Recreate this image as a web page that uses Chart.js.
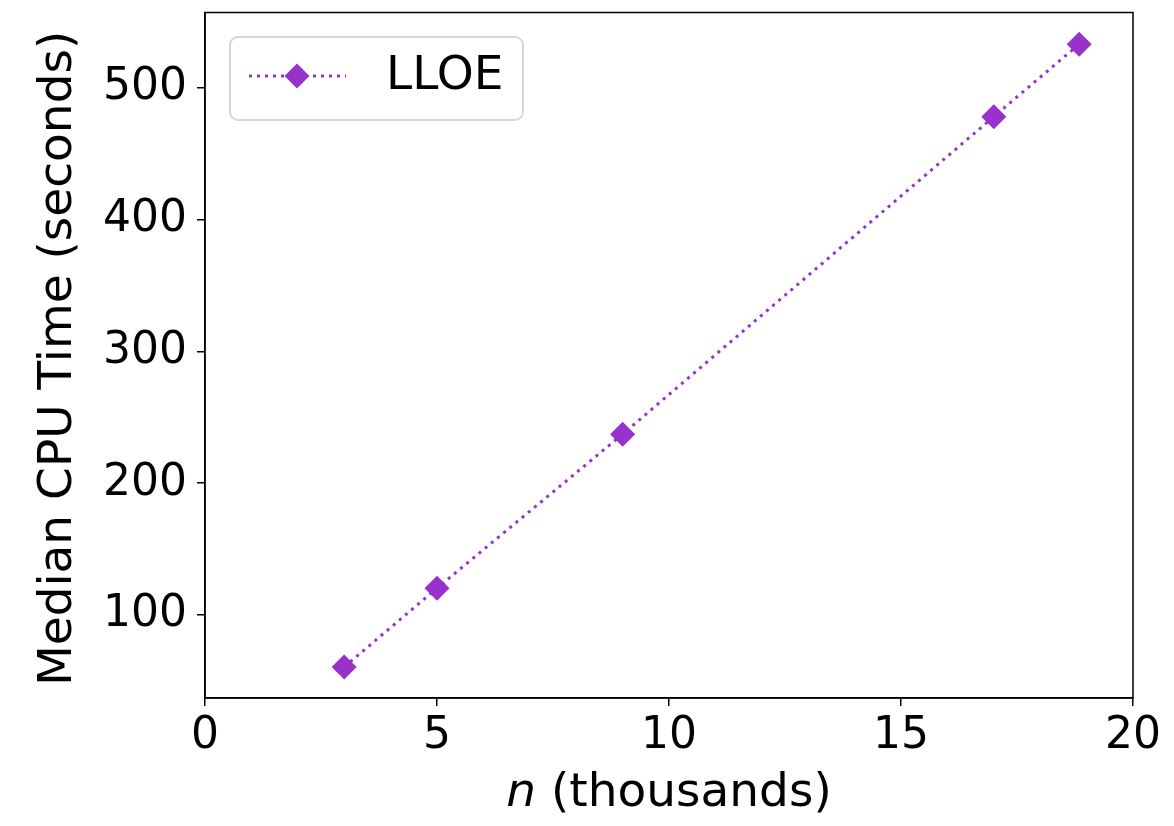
<!DOCTYPE html>
<html>
<head>
<meta charset="utf-8">
<script src="https://cdn.jsdelivr.net/npm/chart.js@4.4.1/dist/chart.umd.min.js"></script>
<style>
  html, body { margin: 0; padding: 0; background: #fff; }
  #wrap { width: 1174px; height: 826px; }
</style>
</head>
<body>
<div id="wrap"><canvas id="grafica" width="1174" height="826"></canvas></div>
<script>
// datos
const nValores = [3, 5, 9, 17, 18.84];
const tiempoCPU = [60.5, 120.3, 237.1, 478.0, 533.0];
const ticksX = [0, 5, 10, 15, 20];
const ticksY = [100, 200, 300, 400, 500];
const nombreSerie = 'LLOE';
const colorSerie = '#9932CC';
const fuente = 'DejaVu Sans';

const ctx = document.getElementById('grafica').getContext('2d');

// marco completo del area de trazado + titulos + leyenda
const extras = {
  id: 'extras',
  afterDraw(chart) {
    const { ctx, chartArea: a } = chart;
    ctx.save();
    ctx.strokeStyle = '#000';
    ctx.lineWidth = 1.5;
    ctx.strokeRect(a.left, a.top, a.right - a.left, a.bottom - a.top);

    // titulo eje y
    ctx.fillStyle = '#000';
    ctx.font = `47px "${fuente}"`;
    ctx.textAlign = 'center';
    ctx.textBaseline = 'middle';
    ctx.save();
    ctx.translate(59, (a.top + a.bottom) / 2 + 3);
    ctx.rotate(-Math.PI / 2);
    ctx.fillText('Median CPU Time (seconds)', 0, 0);
    ctx.restore();

    // titulo eje x con n en cursiva
    const cx = (a.left + a.right) / 2;
    const parteN = 'n';
    const resto = ' (thousands)';
    ctx.font = `italic 47px "${fuente}"`;
    const wN = ctx.measureText(parteN).width;
    ctx.font = `47px "${fuente}"`;
    const wR = ctx.measureText(resto).width;
    const x0 = cx - (wN + wR) / 2;
    ctx.textAlign = 'left';
    ctx.font = `italic 47px "${fuente}"`;
    ctx.fillText(parteN, x0, 794);
    ctx.font = `47px "${fuente}"`;
    ctx.fillText(resto, x0 + wN, 794);

    // leyenda
    const bx = 230, by = 37, bw = 293, bh = 83, r = 8;
    ctx.beginPath();
    ctx.roundRect(bx, by, bw, bh, r);
    ctx.fillStyle = 'rgba(255,255,255,0.8)';
    ctx.fill();
    ctx.strokeStyle = '#d6d6d6';
    ctx.lineWidth = 2;
    ctx.stroke();

    const ly = 76;
    ctx.beginPath();
    ctx.setLineDash([3, 5]);
    ctx.strokeStyle = colorSerie;
    ctx.lineWidth = 3;
    ctx.moveTo(249, ly);
    ctx.lineTo(346, ly);
    ctx.stroke();
    ctx.setLineDash([]);
    ctx.beginPath();
    ctx.moveTo(297, ly - 12.5);
    ctx.lineTo(309.5, ly);
    ctx.lineTo(297, ly + 12.5);
    ctx.lineTo(284.5, ly);
    ctx.closePath();
    ctx.fillStyle = colorSerie;
    ctx.fill();

    ctx.fillStyle = '#000';
    ctx.font = `47px "${fuente}"`;
    ctx.textBaseline = 'middle';
    ctx.fillText(nombreSerie, 386, ly + 1);
    ctx.restore();
  }
};

new Chart(ctx, {
  type: 'line',
  data: {
    datasets: [{
      label: nombreSerie,
      data: nValores.map((n, i) => ({ x: n, y: tiempoCPU[i] })),
      borderColor: colorSerie,
      backgroundColor: colorSerie,
      borderWidth: 3,
      borderDash: [3, 5],
      pointStyle: 'rectRot',
      pointRadius: 12.5,
      pointBorderWidth: 0,
      pointHoverRadius: 12.5,
      tension: 0
    }]
  },
  options: {
    responsive: false,
    animation: false,
    layout: { padding: { top: 12, right: 41, left: 0, bottom: 0 } },
    plugins: {
      legend: { display: false },
      tooltip: { enabled: false }
    },
    scales: {
      x: {
        type: 'linear',
        min: 0,
        max: 20,
        afterBuildTicks: s => { s.ticks = ticksX.map(v => ({ value: v })); },
        afterFit: s => { s.height = 128; s.paddingLeft = 0; s.paddingRight = 0; },
        grid: { drawOnChartArea: false, drawTicks: true, tickLength: 8, color: '#000', lineWidth: 1.5 },
        border: { display: true, color: '#000', width: 1.5 },
        ticks: { color: '#000', font: { family: fuente, size: 44 }, padding: 4, maxRotation: 0 }
      },
      y: {
        type: 'linear',
        min: 37,
        max: 557,
        afterBuildTicks: s => { s.ticks = ticksY.map(v => ({ value: v })); },
        afterFit: s => { s.width = 205; s.paddingTop = 0; s.paddingBottom = 0; },
        grid: { drawOnChartArea: false, drawTicks: true, tickLength: 8, color: '#000', lineWidth: 1.5 },
        border: { display: true, color: '#000', width: 1.5 },
        ticks: { color: '#000', font: { family: fuente, size: 44 }, padding: 10 }
      }
    }
  },
  plugins: [extras]
});
</script>
</body>
</html>
